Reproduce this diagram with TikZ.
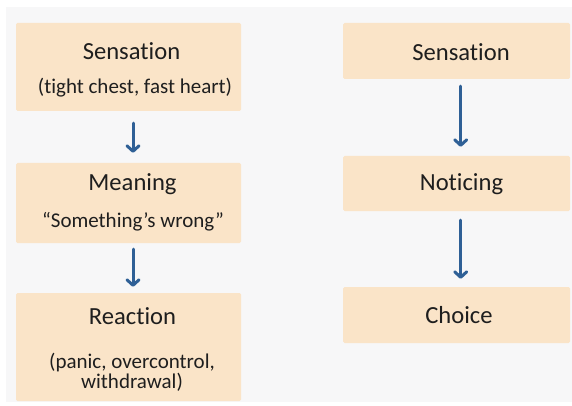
\documentclass[tikz,border=0pt]{standalone}
\usepackage{fontspec}
\setmainfont{Carlito}[Ligatures=NoCommon]
\usetikzlibrary{arrows.meta}
\definecolor{boxfill}{HTML}{FAE4C8}
\definecolor{bgc}{HTML}{F7F7F8}
\definecolor{arrc}{HTML}{2F6096}
\definecolor{txt}{HTML}{1E1E1E}
\tikzset{
  card/.style={fill=boxfill, draw=none, rounded corners=1.5pt, inner sep=0pt},
  ttl/.style={text=txt, font=\fontsize{24.6}{28}\selectfont, inner sep=0pt, anchor=center},
  sub/.style={text=txt, font=\fontsize{21}{18.5}\selectfont, inner sep=0pt, anchor=center, align=center},
  arr/.style={draw=arrc, line width=3pt, line cap=round, -{Straight Barb[length=5.5pt,width=12pt,line cap=round,line join=round]}}
}
\begin{document}
\begin{tikzpicture}[x=1pt,y=-1pt]
\useasboundingbox (0,0) rectangle (572,406);
\fill[white] (0,0) rectangle (572,406);
\fill[bgc] (6,7) rectangle (572,401.5);
% left column
\node[card, minimum width=225pt, minimum height=88pt] (b1) at (128.5,67) {};
\node[card, minimum width=225pt, minimum height=80pt] (b2) at (128.5,203) {};
\node[card, minimum width=225pt, minimum height=108pt] (b3) at (128.5,347) {};
\node[ttl] (t1) at (131.5,51) {Sensation};
\node[sub] (s1) at (135,88) {(tight chest, fast heart)};
\node[ttl] (t2) at (132.5,184) {Meaning};
\node[sub] (s2) at (133,222) {“Something’s wrong”};
\node[ttl] (t3) at (132.5,316) {Reaction};
\node[sub] (s3) at (132,372.5) {(panic, overcontrol,\\withdrawal)};
% right column
\node[card, minimum width=227pt, minimum height=56pt] (r1) at (456.5,51) {};
\node[card, minimum width=227pt, minimum height=55pt] (r2) at (456.5,183.5) {};
\node[card, minimum width=227pt, minimum height=56pt] (r3) at (456.5,315) {};
\node[ttl] (u1) at (461,52) {Sensation};
\node[ttl] (u2) at (461.5,184) {Noticing};
\node[ttl] (u3) at (459,315) {Choice};
% arrows
\draw[arr] ([xshift=4.5pt,yshift=-12pt]b1.south) -- ([xshift=4.5pt,yshift=10pt]b2.north);
\draw[arr] ([xshift=4.5pt,yshift=-6pt]b2.south) -- ([xshift=4.5pt,yshift=6pt]b3.north);
\draw[arr] ([xshift=4.2pt,yshift=-7pt]r1.south) -- ([xshift=4.2pt,yshift=9pt]r2.north);
\draw[arr] ([xshift=4.2pt,yshift=-9pt]r2.south) -- ([xshift=4.2pt,yshift=8pt]r3.north);
\end{tikzpicture}
\end{document}
